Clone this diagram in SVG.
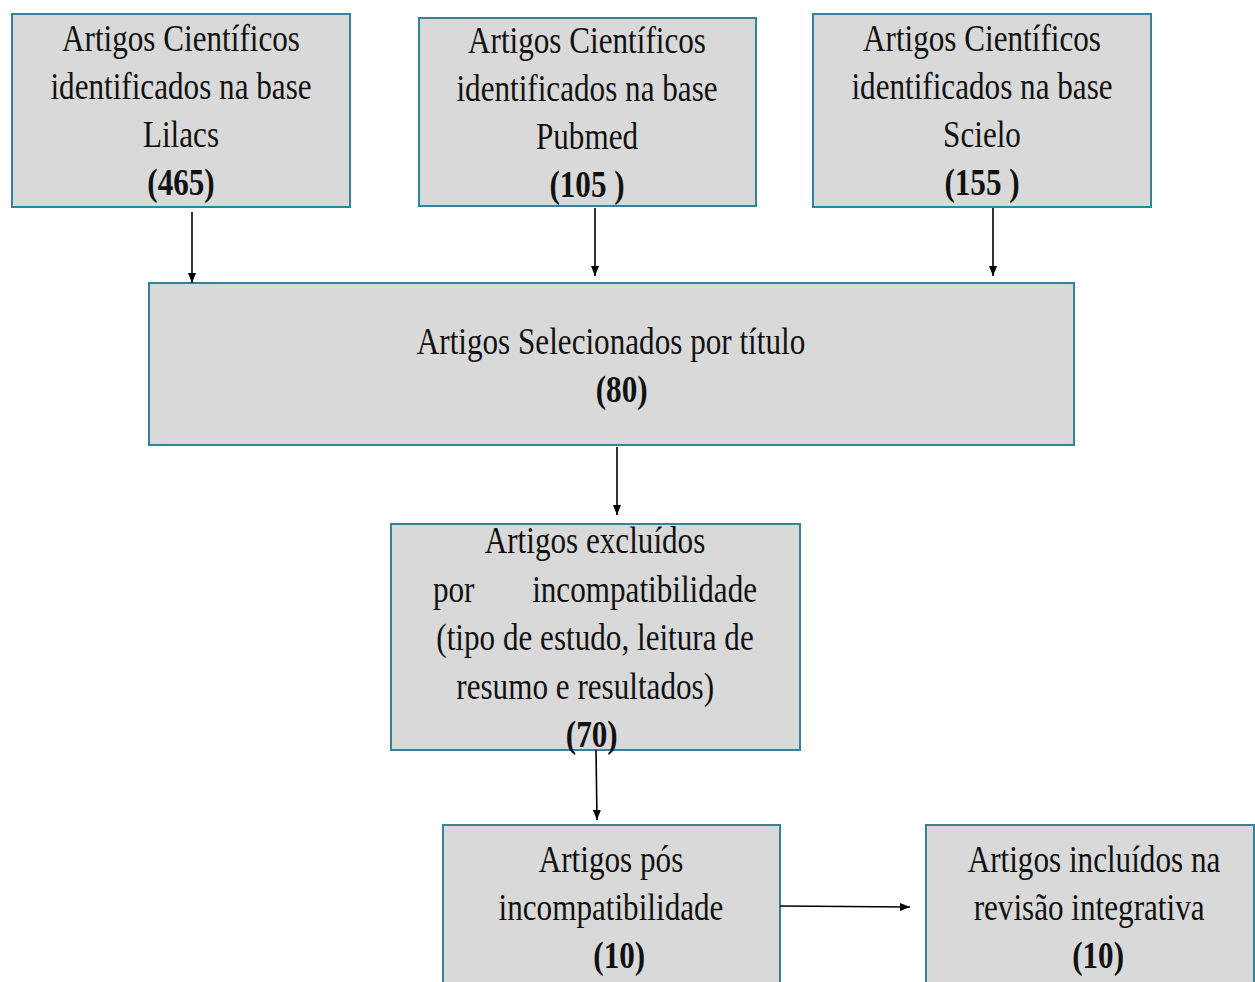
<svg xmlns="http://www.w3.org/2000/svg" width="1255" height="982" viewBox="0 0 1255 982">
<style>
.box{fill:#d9d9d9;stroke:#31849b;stroke-width:2}
.t{font-family:"Liberation Serif","Times New Roman",serif;font-size:38px;fill:#111;text-anchor:middle}
.b{font-weight:bold}
.c{stroke:#000;stroke-width:1.6;fill:none;marker-end:url(#ah)}
</style>
<defs>
<marker id="ah" viewBox="0 0 10 10" refX="10" refY="5" markerWidth="10" markerHeight="10" markerUnits="userSpaceOnUse" orient="auto">
<path d="M0,1 L10,5 L0,9 Z" fill="#000"/>
</marker>
</defs>
<rect width="1255" height="982" fill="#fff"/>
<g id="lilacs">
<rect class="box" x="12" y="14" width="338" height="193"/>
<g transform="translate(181 0) scale(0.82 1)">
<text class="t" x="0" y="51">Artigos Científicos</text>
<text class="t" x="0" y="99">identificados na base</text>
<text class="t" x="0" y="147">Lilacs</text>
<text class="t b" x="0" y="195">(465)</text>
</g>
</g>
<g id="pubmed">
<rect class="box" x="419" y="18" width="337" height="188"/>
<g transform="translate(587 0) scale(0.82 1)">
<text class="t" x="0" y="53">Artigos Científicos</text>
<text class="t" x="0" y="101">identificados na base</text>
<text class="t" x="0" y="149">Pubmed</text>
<text class="t b" x="0" y="197">(105 )</text>
</g>
</g>
<g id="scielo">
<rect class="box" x="813" y="14" width="338" height="193"/>
<g transform="translate(982 0) scale(0.82 1)">
<text class="t" x="0" y="51">Artigos Científicos</text>
<text class="t" x="0" y="99">identificados na base</text>
<text class="t" x="0" y="147">Scielo</text>
<text class="t b" x="0" y="195">(155 )</text>
</g>
</g>
<g id="selecionados">
<rect class="box" x="149" y="283" width="925" height="162"/>
<g transform="translate(611 0) scale(0.82 1)">
<text class="t" x="0" y="354">Artigos Selecionados por título</text>
<text class="t b" x="13" y="402">(80)</text>
</g>
</g>
<g id="excluidos">
<rect class="box" x="391" y="524" width="409" height="226"/>
<g transform="translate(595 0) scale(0.82 1)">
<text class="t" x="0" y="553">Artigos excluídos</text>
<text class="t" x="-197.6" y="602" style="text-anchor:start">por</text>
<text class="t" x="197.6" y="602" style="text-anchor:end">incompatibilidade</text>
<text class="t" x="0" y="650">(tipo de estudo, leitura de</text>
<text class="t" x="-12" y="699">resumo e resultados)</text>
<text class="t b" x="-4" y="747">(70)</text>
</g>
</g>
<g id="pos">
<rect class="box" x="443" y="825" width="337" height="180"/>
<g transform="translate(611 0) scale(0.82 1)">
<text class="t" x="0" y="872">Artigos pós</text>
<text class="t" x="0" y="920">incompatibilidade</text>
<text class="t b" x="10" y="968">(10)</text>
</g>
</g>
<g id="incluidos">
<rect class="box" x="926" y="825" width="328" height="180"/>
<g transform="translate(1094 0) scale(0.82 1)">
<text class="t" x="0" y="872">Artigos incluídos na</text>
<text class="t" x="-6" y="920">revisão integrativa</text>
<text class="t b" x="5" y="968">(10)</text>
</g>
</g>
<g id="connectors">
<line class="c" x1="192" y1="212" x2="192" y2="283"/>
<line class="c" x1="595" y1="208" x2="595" y2="276"/>
<line class="c" x1="993" y1="208" x2="993" y2="276"/>
<line class="c" x1="617" y1="447" x2="617" y2="515"/>
<line class="c" x1="596" y1="750" x2="597" y2="820"/>
<line class="c" x1="780" y1="906" x2="910" y2="907"/>
</g>
</svg>
